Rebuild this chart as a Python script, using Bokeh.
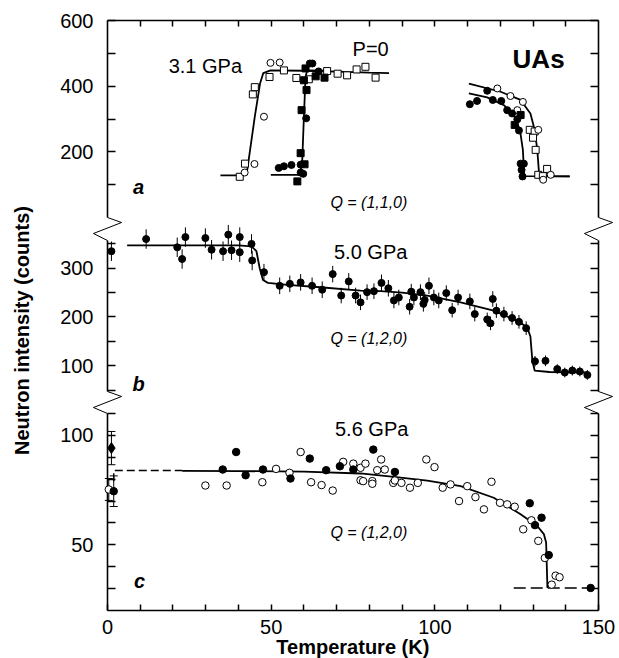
import math
from bokeh.plotting import figure
from bokeh.models import (Range1d, LinearAxis, FixedTicker, CustomJSTickFormatter,
                          Label, Whisker, ColumnDataSource, TeeHead)
from bokeh.embed import file_html
from bokeh.resources import INLINE

# ---------------- data ----------------
# panel a: Q=(1,1,0); P=0 (filled) and 3.1 GPa (open)
a_open_sq_T = [40.4, 42.0, 44.4, 45.0, 49.5, 53.9, 57.7, 61.5, 67.1, 70.3, 73.2, 76.1, 78.8, 81.9,
               129.0, 130.5, 130.0, 130.8, 131.6, 133.0, 134.3]
a_open_sq_I = [124, 164, 375, 397, 428, 448, 425, 421, 446, 438, 433, 451, 459, 426,
               267, 262, 243, 206, 130, 126, 148]
a_open_ci_T = [41.9, 44.9, 47.8, 49.8, 52.6, 119.1, 123.1, 125.2, 126.9, 131.6, 133.1, 135.4]
a_open_ci_I = [137, 163, 307, 471, 472, 393, 370, 327, 352, 267, 115, 130]
a_fill_sq_T = [58.0, 59.0, 59.3, 60.0, 60.2, 60.5, 60.8, 63.6, 66.3, 124.4, 126.2]
a_fill_sq_I = [110, 196, 327, 418, 162, 454, 388, 430, 426, 282, 312]
a_fill_ci_T = [52.3, 53.9, 56.2, 59.0, 59.0, 59.8, 60.7, 61.8, 62.6, 64.5,
               110.7, 112.9, 116.0, 117.7, 120.3, 122.1, 123.6, 125.2, 125.7, 126.2, 127.2, 126.5, 126.8]
a_fill_ci_I = [151, 156, 160, 161, 137, 133, 302, 469, 469, 445,
               345, 355, 386, 358, 355, 327, 317, 299, 265, 164, 164, 145, 125]
a_fit31_lo_T = [34.5, 40.5, 42.7, 45.0, 46.6, 47.6, 49.8, 60, 70, 80, 86]
a_fit31_lo_I = [128, 128, 145, 307, 408, 440, 448, 447, 444, 441, 440]
a_fit0_lo_T = [49.9, 58.8, 59.5, 60.0, 60.5, 61.0, 66.0]
a_fit0_lo_I = [130, 130, 176, 307, 428, 448, 447]
a_fit0_hi_T = [110.4, 116.0, 121.1, 124.1, 126.0, 126.9, 127.3, 141.2]
a_fit0_hi_I = [378, 366, 342, 312, 267, 206, 126, 125]
a_fit31_hi_T = [110.4, 120.1, 126.2, 129.2, 130.5, 131.3, 131.9, 141.2]
a_fit31_hi_I = [408, 383, 358, 317, 267, 206, 126, 125]

# panel b: 5.0 GPa, Q=(1,2,0)
b_T = [1.2, 11.8, 21.3, 22.8, 23.8, 29.9, 31.8, 35.3, 36.9, 37.9,
       40.4, 40.4, 44.0, 44.2, 47.8, 52.6, 55.7, 59.0, 62.5, 65.6,
       68.8, 71.4, 73.7, 75.8, 77.3, 79.3, 81.4, 83.7, 85.8, 87.5,
       89.0, 92.3, 92.8, 93.6, 95.6, 96.5, 96.9, 98.2, 99.7, 101.2,
       103.5, 105.3, 107.1, 110.7, 112.2, 116.0, 117.0, 117.7, 118.8, 121.1,
       123.6, 125.7, 127.9, 130.6, 133.8, 137.4, 139.7, 142.0, 144.3, 146.6]
b_I = [335, 360, 343, 319, 364, 362, 338, 335, 369, 337,
       364, 333, 350, 316, 292, 264, 268, 271, 264, 256,
       288, 244, 273, 244, 230, 251, 253, 270, 259, 234,
       240, 221, 252, 240, 251, 227, 235, 264, 240, 234,
       249, 214, 240, 232, 206, 195, 187, 237, 213, 206,
       198, 190, 177, 109, 110, 93, 86, 90, 88, 81]
b_err = [20, 20, 20, 20, 20, 20, 20, 20, 20, 20,
         20, 20, 20, 20, 17, 17, 17, 17, 17, 17,
         17, 16, 17, 16, 16, 16, 16, 17, 17, 16,
         16, 16, 16, 16, 16, 16, 16, 17, 16, 16,
         16, 15, 16, 16, 15, 14, 14, 16, 15, 15,
         14, 14, 14, 11, 11, 10, 10, 10, 10, 10]
b_fit_T = [6.0, 20, 40, 44.0, 45.5, 46.5, 47.5, 49, 55, 65, 77.3, 83.4, 90, 97.7,
           107.9, 118.0, 125.2, 128.2, 129.2, 129.8, 130.5, 135, 146.6]
b_fit_I = [347, 347, 347, 345, 335, 300, 276, 270, 266, 261, 254, 253, 250, 244,
           230, 213, 192, 179, 160, 110, 90, 87, 86]

# panel c: 5.6 GPa, Q=(1,2,0)
c_fill_T = [1.9, 35.2, 39.3, 42.2, 47.5, 55.9, 61.8, 66.8, 71.0, 75.1, 81.2, 87.8,
            129.0, 130.6, 132.6, 134.8, 147.6]
c_fill_I = [74.5, 84.4, 92.4, 81.8, 84.4, 80.3, 89.4, 84.1, 85.9, 84.4, 93.5, 83.3,
            69.0, 59.0, 62.4, 45.3, 30.3]
c_diam_T = [1.2]
c_diam_I = [94.2]
c_open_T = [0.4, 29.9, 36.4, 47.3, 51.5, 55.6, 59.0, 62.2, 65.4, 68.8, 72.0, 75.1, 77.3, 77.3, 78.1,
            78.8, 80.9, 80.9, 82.4, 83.6, 84.7, 87.3, 87.8, 89.8, 92.4, 94.8, 97.4, 99.9, 102.4, 104.8,
            107.4, 109.9, 112.4, 115.0, 117.3, 119.9, 122.1, 124.4, 127.0, 129.5, 131.6, 133.6, 135.7,
            136.9, 138.1]
c_open_I = [75.3, 77.1, 77.1, 78.6, 84.7, 82.9, 92.4, 78.6, 77.3, 74.8, 87.9, 87.1, 85.2, 79.5, 79.1,
            87.1, 79.1, 77.9, 84.1, 89.0, 84.4, 78.3, 79.4, 78.3, 76.1, 78.3, 89.0, 85.5, 76.1, 77.6,
            70.0, 76.8, 71.8, 66.2, 78.8, 69.2, 68.5, 67.4, 57.1, 61.2, 51.8, 44.0, 31.8, 35.9, 35.2]
c_err_T = [1.2, 0.4, 1.9]
c_err_I = [94.2, 75.3, 74.5]
c_err = [7.6, 5.0, 7.0]
c_fit_dash_T = [1.9, 1.9, 22.8]
c_fit_dash_I = [79.0, 84.0, 84.0]
c_fit_T = [22.8, 40, 60, 77.3, 87.5, 97.7, 107.9, 118.0, 126.2, 131.3, 133.3, 134.0, 134.4]
c_fit_I = [83.8, 83.7, 83.4, 82.6, 81.0, 79.3, 76.8, 71.5, 64.0, 58.6, 54.9, 51.1, 30.3]
c_base_T = [124.1, 147.6]
c_base_I = [30.3, 30.3]

# ticks
A_TICKS = [100, 200, 300, 400, 500, 600]
A_LABELED = [200, 400, 600]
B_TICKS = [50, 100, 150, 200, 250, 300, 350]
B_LABELED = [100, 200, 300]
C_TICKS = [30, 40, 50, 60, 70, 80, 90, 100, 110]
C_LABELED = [50, 100]
X_TICKS = list(range(0, 151, 10))
X_LABELED = [0, 50, 100, 150]
T_MIN, T_MAX = 0, 150

# ---------------- layout ----------------
W, H = 619, 658
X_LEFT_PX, X_RIGHT_PX = 107, 598          # pixel columns of T=0 and T=150
KX = (T_MAX - T_MIN) / (X_RIGHT_PX - X_LEFT_PX)
FRAME_V = float(H)                        # main vertical range: pixels from bottom
PANELS = {  # value range -> vertical slot (virtual units)
    "a": (0.0, 600.0, 441.0, 638.0),
    "b": (47.0, 357.0, 267.0, 418.0),
    "c": (20.0, 110.0, 48.0, 245.0),
}


def panel_range(lo, hi, v0, v1):
    k = (hi - lo) / (v1 - v0)
    return Range1d(start=lo - v0 * k, end=hi + (FRAME_V - v1) * k)


def to_virtual(name, vals):
    lo, hi, v0, v1 = PANELS[name]
    k = (hi - lo) / (v1 - v0)
    return [round(v0 + (t - lo) / k, 6) for t in vals]


FONT = "Liberation Sans"

p = figure(width=W, height=H,
           x_range=Range1d(T_MIN - X_LEFT_PX * KX, T_MAX + (W - X_RIGHT_PX) * KX),
           y_range=Range1d(0, FRAME_V),
           output_backend="svg", toolbar_location=None,
           min_border_left=0, min_border_right=0, min_border_top=0, min_border_bottom=0,
           background_fill_color="white", border_fill_color="white")
p.outline_line_color = None
p.grid.visible = False
p.extra_y_ranges = {k: panel_range(*v) for k, v in PANELS.items()}

yt, yl = [], []
for name, ticks, labeled in (("a", A_TICKS, A_LABELED), ("b", B_TICKS, B_LABELED),
                             ("c", C_TICKS, C_LABELED)):
    for t, v in zip(ticks, to_virtual(name, ticks)):
        yt.append(v)
        yl.append(str(t) if t in labeled else "")

FMT = """
for (let i = 0; i < vals.length; i++) {
  if (Math.abs(vals[i] - tick) < 1e-4) { return labs[i]; }
}
return "";
"""
yfmt = CustomJSTickFormatter(args=dict(vals=yt, labs=yl), code=FMT)
xfmt = CustomJSTickFormatter(args=dict(vals=X_TICKS,
                                       labs=[str(t) if t in X_LABELED else "" for t in X_TICKS]),
                             code=FMT)
blank = CustomJSTickFormatter(code="return '';")


def style_axis(ax, tick_len):
    ax.major_tick_in = tick_len
    ax.major_tick_out = 0
    ax.minor_tick_in = 0
    ax.minor_tick_out = 0
    ax.major_tick_line_width = 1.5
    ax.major_tick_line_color = "black"
    ax.axis_line_width = 1.6
    ax.axis_line_color = "black"
    ax.major_label_text_font = FONT
    ax.major_label_text_font_size = "20px"
    ax.major_label_text_color = "black"


v_bottom = PANELS["c"][2]
v_top = PANELS["a"][3]

yax = p.yaxis[0]
yax.ticker = FixedTicker(ticks=yt, minor_ticks=[])
yax.formatter = yfmt
style_axis(yax, 8)
yax.axis_line_color = None
yax.major_label_standoff = 14
yax.fixed_location = T_MIN

rax = LinearAxis(ticker=FixedTicker(ticks=yt, minor_ticks=[]), formatter=blank)
style_axis(rax, 8)
rax.axis_line_color = None
rax.major_label_text_font_size = "0px"
rax.fixed_location = T_MAX
p.add_layout(rax, "right")

xax = p.xaxis[0]
xax.ticker = FixedTicker(ticks=X_TICKS, minor_ticks=[])
xax.formatter = xfmt
style_axis(xax, 6)
xax.major_label_standoff = 9
xax.bounds = (T_MIN, T_MAX)
xax.fixed_location = v_bottom

tax = LinearAxis(ticker=FixedTicker(ticks=X_TICKS[1:-1], minor_ticks=[]), formatter=blank)
style_axis(tax, 6)
tax.major_label_text_font_size = "0px"
tax.bounds = (T_MIN, T_MAX)
tax.fixed_location = v_top
p.add_layout(tax, "above")

# panel side lines and axis-break zigzags
for name in PANELS:
    lo, hi = PANELS[name][0], PANELS[name][1]
    for x in (T_MIN, T_MAX):
        p.line([x, x], [lo, hi], y_range_name=name, line_color="black", line_width=1.6)
ZX = 4.3
for upper, lower in (("a", "b"), ("b", "c")):
    vb = PANELS[upper][2]
    vt = PANELS[lower][3]
    for x in (T_MIN, T_MAX):
        p.line([x, x + ZX, x - ZX, x], [vb, vb - 5, vb - 16, vt],
               line_color="black", line_width=1.0)

# ---------------- panel a ----------------
for T, I in ((a_fit31_lo_T, a_fit31_lo_I), (a_fit0_lo_T, a_fit0_lo_I),
             (a_fit0_hi_T, a_fit0_hi_I), (a_fit31_hi_T, a_fit31_hi_I)):
    p.line(T, I, y_range_name="a", line_color="black", line_width=1.8)
p.scatter(a_open_sq_T, a_open_sq_I, y_range_name="a", marker="square", size=7,
          fill_color="white", line_color="black", line_width=1)
p.scatter(a_open_ci_T, a_open_ci_I, y_range_name="a", marker="circle", size=7,
          fill_color="white", line_color="black", line_width=1)
p.scatter(a_fill_sq_T, a_fill_sq_I, y_range_name="a", marker="square", size=7,
          fill_color="black", line_color="black")
p.scatter(a_fill_ci_T, a_fill_ci_I, y_range_name="a", marker="circle", size=7,
          fill_color="black", line_color="black")

# ---------------- panel b ----------------
p.line(b_fit_T, b_fit_I, y_range_name="b", line_color="black", line_width=1.8)
b_lo = [v - e for v, e in zip(b_I, b_err)]
b_hi = [v + e for v, e in zip(b_I, b_err)]
p.segment(b_T, b_lo, b_T, b_hi, y_range_name="b", line_color="black", line_width=1)
p.scatter(b_T, b_I, y_range_name="b", marker="circle", size=7,
          fill_color="black", line_color="black")

# ---------------- panel c ----------------
p.line(c_fit_dash_T, c_fit_dash_I, y_range_name="c", line_color="black", line_width=1.5,
       line_dash="8 4")
p.line(c_fit_T, c_fit_I, y_range_name="c", line_color="black", line_width=1.8)
p.line(c_base_T, c_base_I, y_range_name="c", line_color="black", line_width=1.5,
       line_dash="12 5")
err_src = ColumnDataSource(dict(x=c_err_T, lower=[v - e for v, e in zip(c_err_I, c_err)],
                                upper=[v + e for v, e in zip(c_err_I, c_err)]))
p.add_layout(Whisker(source=err_src, base="x", lower="lower", upper="upper", dimension="height",
                     y_range_name="c", line_color="black", line_width=1,
                     upper_head=TeeHead(size=8, line_width=1), lower_head=TeeHead(size=8, line_width=1)))
p.scatter(c_open_T, c_open_I, y_range_name="c", marker="circle", size=7.5,
          fill_color="white", line_color="black", line_width=1)
p.scatter(c_fill_T, c_fill_I, y_range_name="c", marker="circle", size=7.5,
          fill_color="black", line_color="black")
p.scatter(c_diam_T, c_diam_I, y_range_name="c", marker="diamond", size=11,
          fill_color="black", line_color="black")


# ---------------- texts ----------------
def add_text(x, y, text, rng, size="20px", style="normal", align="center", angle=0.0):
    kw = {} if rng is None else {"y_range_name": rng}
    p.add_layout(Label(x=x, y=y, text=text, text_font=FONT, text_font_size=size,
                       text_font_style=style, text_align=align, text_baseline="middle",
                       text_color="black", angle=angle, **kw))


add_text(29.9, 460, "3.1 GPa", "a")
add_text(80.4, 512, "P=0", "a")
add_text(131.7, 484, "UAs", "a", size="26px", style="bold")
add_text(9.5, 94, "a", "a", style="bold italic")
add_text(68.1, 46, "Q = (1,1,0)", "a", size="16px", style="italic", align="left")

add_text(80.4, 334, "5.0 GPa", "b")
add_text(68.1, 155.5, "Q = (1,2,0)", "b", size="16px", style="italic", align="left")
add_text(9.5, 63, "b", "b", style="bold italic")

add_text(80.7, 103.1, "5.6 GPa", "c")
add_text(68.1, 55.6, "Q = (1,2,0)", "c", size="16px", style="italic", align="left")
add_text(9.8, 33.7, "c", "c", style="bold italic")

add_text(75.8, FRAME_V - 646, "Temperature  (K)", None, style="bold")
add_text(-26.0, FRAME_V - 330, "Neutron intensity (counts)", None, style="bold", angle=math.pi / 2)

open("out.html", "w").write(file_html(p, INLINE))
